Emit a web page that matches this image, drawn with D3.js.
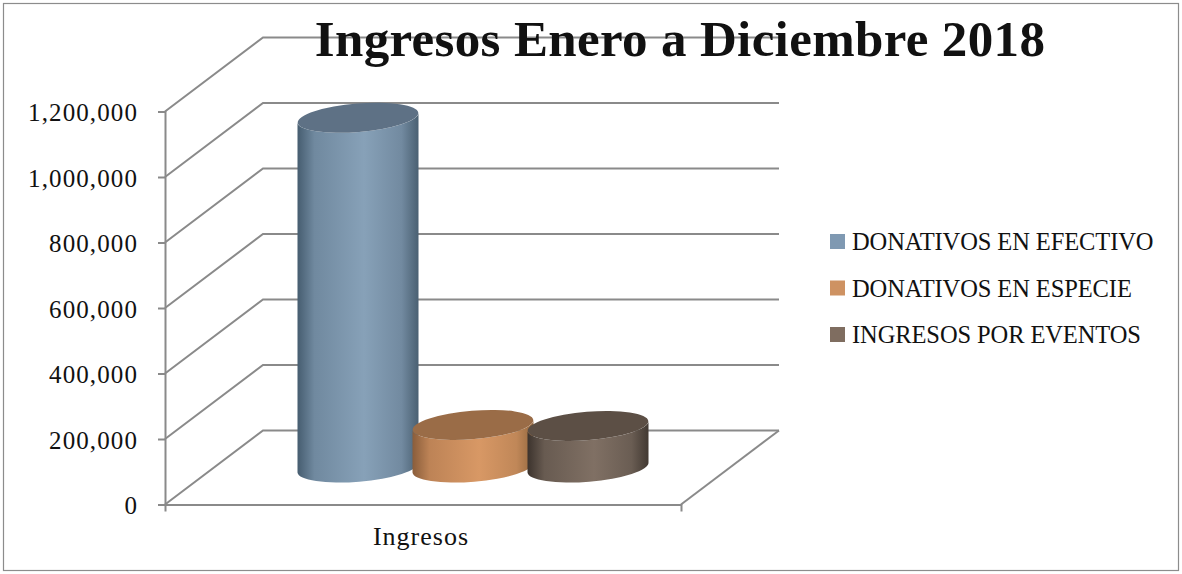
<!DOCTYPE html>
<html>
<head>
<meta charset="utf-8">
<script src="https://cdn.jsdelivr.net/npm/d3@7"></script>
<style>
body { margin: 0; background: #fff; }
text { font-family: "Liberation Serif", serif; fill: #111; }
</style>
</head>
<body>
<svg id="chart"></svg>
<script>
const categories = ["Ingresos"];
const series = ["DONATIVOS EN EFECTIVO", "DONATIVOS EN ESPECIE", "INGRESOS POR EVENTOS"];
const values = [1068000, 130000, 127000];
const yTicks = [0, 200000, 400000, 600000, 800000, 1000000, 1200000];
const title = "Ingresos Enero a Diciembre 2018";

const colors = {
    "DONATIVOS EN EFECTIVO": { edgeL: "#465d70", mid: "#87a1b8", edgeR: "#4a6072", top: "#5e7185", key: "#7f99b2" },
    "DONATIVOS EN ESPECIE": { edgeL: "#8a5d3b", mid: "#d89865", edgeR: "#94683f", top: "#9a6c47", key: "#ce9262" },
    "INGRESOS POR EVENTOS": { edgeL: "#3c332d", mid: "#807064", edgeR: "#423932", top: "#5c4f45", key: "#7f6d60" }
};

const width = 1182, height = 574;
const depth = { x: 98, y: -74 };
const gridColor = "#8a8a8a";
const lineWidth = 2;

const svg = d3.select("#chart").attr("width", width).attr("height", height);
const defs = svg.append("defs");

svg.append("rect")
    .attr("x", 3.5).attr("y", 3.5)
    .attr("width", 1175).attr("height", 567)
    .attr("fill", "#fff").attr("stroke", "#8c8c8c").attr("stroke-width", 1.2);

const yScale = d3.scaleLinear().domain([0, 1200000]).range([504.5, 111.5]);
const xScale = d3.scaleBand().domain(categories).range([165, 681]);
const xSeries = d3.scaleBand().domain(series).range([251.5, 596.5]);

// back wall, side wall and floor
const walls = svg.append("g")
    .attr("fill", "none").attr("stroke", gridColor).attr("stroke-width", lineWidth);

yTicks.forEach(t => {
    const y = yScale(t);
    walls.append("path").attr("d", d3.line()([
        [165, y],
        [165 + depth.x, y + depth.y],
        [681 + depth.x, y + depth.y]
    ]));
});
walls.append("path").attr("d", d3.line()([
    [681, yScale(0)],
    [681 + depth.x, yScale(0) + depth.y]
]));

// axes
const yAxis = d3.axisLeft(yScale)
    .tickValues(yTicks)
    .tickFormat(d3.format(","))
    .tickSize(7)
    .tickPadding(20);
const xAxis = d3.axisBottom(xScale)
    .tickSizeInner(0)
    .tickSizeOuter(7)
    .tickPadding(20);

const axisY = svg.append("g").attr("transform", "translate(165,0)").call(yAxis);
const axisX = svg.append("g").attr("transform", "translate(0,504.5)").call(xAxis);

[axisY, axisX].forEach(g => {
    g.selectAll("path, line").attr("stroke", gridColor).attr("stroke-width", lineWidth);
    g.selectAll("text").attr("font-family", "Liberation Serif").attr("fill", "#111");
});
axisY.selectAll("text").attr("font-size", 25).attr("letter-spacing", 1.1).attr("dy", "0.36em");
axisX.selectAll("text").attr("font-size", 26).attr("letter-spacing", 1).attr("dy", "0.8em").attr("dx", -2);

// cylinders
const rx = 60.5, ry = 14.2, tilt = -4.7, lean = 5;

series.forEach((s, i) => {
    const c = colors[s];
    const gradId = "grad" + i;
    const grad = defs.append("linearGradient").attr("id", gradId);
    grad.append("stop").attr("offset", "0%").attr("stop-color", c.edgeL);
    grad.append("stop").attr("offset", "14%").attr("stop-color", d3.interpolateRgb(c.edgeL, c.mid)(0.65));
    grad.append("stop").attr("offset", "55%").attr("stop-color", c.mid);
    grad.append("stop").attr("offset", "86%").attr("stop-color", d3.interpolateRgb(c.edgeR, c.mid)(0.65));
    grad.append("stop").attr("offset", "100%").attr("stop-color", c.edgeR);

    const cx = xSeries(s) + xSeries.bandwidth() / 2 + depth.x / 2;
    const yBase = yScale(0) + depth.y / 2;
    const yTop = yScale(values[i]) + depth.y / 2;
    const arc = `A${rx},${ry} ${tilt} 0`;

    svg.append("path")
        .attr("d", `M${cx - rx},${yTop + lean} L${cx - rx},${yBase + lean} ${arc} 0 ${cx + rx},${yBase - lean} L${cx + rx},${yTop - lean} ${arc} 1 ${cx - rx},${yTop + lean} Z`)
        .attr("fill", `url(#${gradId})`);

    svg.append("ellipse")
        .attr("cx", cx).attr("cy", yTop)
        .attr("rx", rx).attr("ry", ry)
        .attr("transform", `rotate(${tilt} ${cx} ${yTop})`)
        .attr("fill", c.top);
});

// title
svg.append("text")
    .attr("x", 680).attr("y", 56)
    .attr("text-anchor", "middle")
    .attr("font-size", 51)
    .attr("letter-spacing", 0.35)
    .attr("font-weight", "bold")
    .attr("fill", "#000")
    .text(title);

// legend
const legendY = d3.scalePoint().domain(series).range([241.5, 334.5]);
const legend = svg.append("g").selectAll("g").data(series).join("g")
    .attr("transform", d => `translate(830,${legendY(d)})`);
legend.append("rect")
    .attr("y", -7.5).attr("width", 15).attr("height", 15)
    .attr("fill", d => colors[d].key);
legend.append("text")
    .attr("x", 22).attr("dy", "0.36em")
    .attr("font-size", 24.5)
    .attr("letter-spacing", -0.1)
    .text(d => d);
</script>
</body>
</html>
